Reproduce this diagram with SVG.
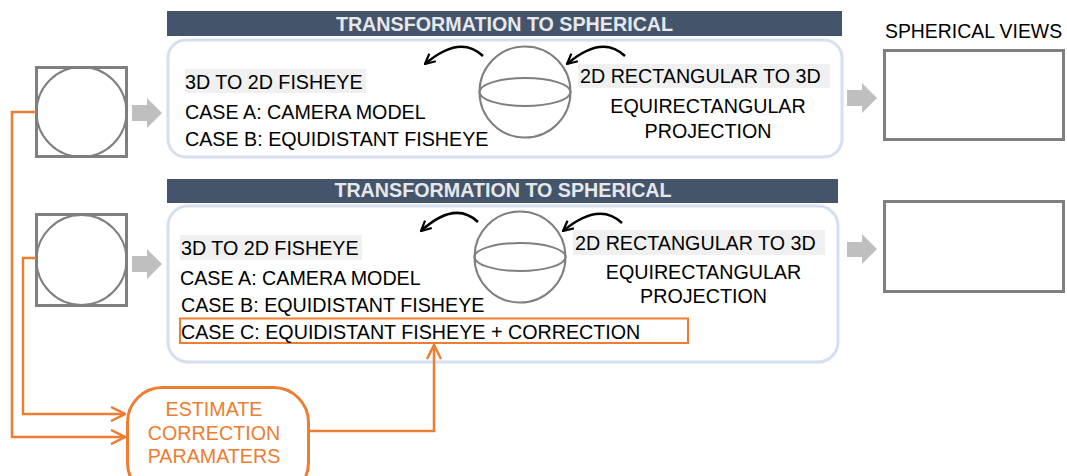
<svg xmlns="http://www.w3.org/2000/svg" width="1067" height="476" viewBox="0 0 1067 476">
<style>
text{font-family:"Liberation Sans",Arial,sans-serif;font-size:19.7px;fill:#000}
.hdr{fill:#44546a}
.hdrt{font-weight:bold;fill:#e6e8ec;text-anchor:middle}
.panel{fill:#fff;stroke:#d6dff0;stroke-width:3}
.gray{fill:#fff;stroke:#7f7f7f;stroke-width:3}
.thin{fill:none;stroke:#7f7f7f;stroke-width:2}
.bg{fill:#f0f0f0}
.mid{text-anchor:middle}
.blk{fill:#bfbfbf}
.curve{fill:none;stroke:#000;stroke-width:2.5}
.or{fill:none;stroke:#ed7d31;stroke-width:2.5}
.ort{fill:#ed7d31;text-anchor:middle}
</style>
<defs>
<marker id="ah" viewBox="0 0 12 12" refX="11" refY="6" markerWidth="12" markerHeight="12" markerUnits="userSpaceOnUse" orient="auto">
<path d="M1,1 L11,6 L1,11" fill="none" stroke="#000" stroke-width="2.2"/>
</marker>
<marker id="oh" viewBox="0 0 16 16" refX="15" refY="8" markerWidth="16" markerHeight="16" markerUnits="userSpaceOnUse" orient="auto">
<path d="M1,1 L15,8 L1,15" fill="none" stroke="#ed7d31" stroke-width="2.5"/>
</marker>
</defs>

<g id="row1">
<rect class="hdr" x="167" y="11" width="675" height="25"/>
<text class="hdrt" x="504.5" y="31">TRANSFORMATION TO SPHERICAL</text>
<rect class="panel" x="168" y="40" width="674" height="117" rx="18"/>
<rect class="bg" x="185" y="69" width="181" height="24"/>
<text x="185" y="89">3D TO 2D FISHEYE</text>
<text x="185" y="119">CASE A: CAMERA MODEL</text>
<text x="185" y="146">CASE B: EQUIDISTANT FISHEYE</text>
<circle class="thin" cx="525" cy="92" r="45.5"/>
<ellipse class="thin" cx="525" cy="92" rx="45.5" ry="14"/>
<rect class="bg" x="578" y="64" width="252" height="24"/>
<text x="580" y="83">2D RECTANGULAR TO 3D</text>
<text class="mid" x="708" y="113">EQUIRECTANGULAR</text>
<text class="mid" x="708" y="138">PROJECTION</text>
</g>

<g id="row2">
<rect class="hdr" x="167" y="179" width="671" height="24"/>
<text class="hdrt" x="503" y="197">TRANSFORMATION TO SPHERICAL</text>
<rect class="panel" x="168" y="206" width="670" height="156" rx="20"/>
<rect class="bg" x="180" y="235" width="182" height="25"/>
<text x="181" y="255">3D TO 2D FISHEYE</text>
<text x="180" y="285">CASE A: CAMERA MODEL</text>
<text x="181" y="312">CASE B: EQUIDISTANT FISHEYE</text>
<rect x="180" y="318.5" width="508" height="24.5" fill="none" stroke="#ed7d31" stroke-width="2"/>
<text x="181" y="339">CASE C: EQUIDISTANT FISHEYE + CORRECTION</text>
<circle class="thin" cx="520" cy="257" r="45.5"/>
<ellipse class="thin" cx="520" cy="257" rx="45.5" ry="14"/>
<rect class="bg" x="573" y="230" width="252" height="25"/>
<text x="575" y="250">2D RECTANGULAR TO 3D</text>
<text class="mid" x="703.5" y="279">EQUIRECTANGULAR</text>
<text class="mid" x="703.5" y="303">PROJECTION</text>
</g>

<g id="fisheye1">
<rect class="gray" x="36.5" y="67.5" width="90" height="89"/>
<circle class="thin" cx="81.5" cy="112" r="45"/>
</g>
<g id="fisheye2">
<rect class="gray" x="36.5" y="214.5" width="90" height="91"/>
<circle class="thin" cx="81.5" cy="260" r="45"/>
</g>

<g id="views">
<text x="885" y="38" style="font-size:19.4px">SPHERICAL VIEWS</text>
<rect class="gray" x="884.5" y="50.5" width="179" height="89"/>
<rect class="gray" x="884.5" y="201.5" width="179" height="90"/>
</g>

<g id="estimate">
<rect x="127.5" y="387.5" width="181" height="110" rx="35" fill="#fff" stroke="#ed7d31" stroke-width="3"/>
<text class="ort" x="214" y="416">ESTIMATE</text>
<text class="ort" x="214" y="440">CORRECTION</text>
<text class="ort" x="214" y="463">PARAMATERS</text>
</g>

<g id="connectors">
<path class="blk" d="M132,105 H147 V98 L162,113 L147,128 V121 H132 Z"/>
<path class="blk" d="M132,256 H147 V249 L162,264 L147,279 V272 H132 Z"/>
<path class="blk" d="M847,90 H862 V83 L877,98 L862,113 V106 H847 Z"/>
<path class="blk" d="M847,242 H862 V234 L877,249 L862,264 V257 H847 Z"/>
<path class="curve" d="M483,56 Q460,34 425,64" marker-end="url(#ah)"/>
<path class="curve" d="M625,56 Q602,34 567,64" marker-end="url(#ah)"/>
<path class="curve" d="M478,222 Q455,200 421,231" marker-end="url(#ah)"/>
<path class="curve" d="M622,223 Q599,201 563,231" marker-end="url(#ah)"/>
<path class="or" d="M36,112 H12 V437 H125" marker-end="url(#oh)"/>
<path class="or" d="M36,258 H23 V414 H125" marker-end="url(#oh)"/>
<path class="or" d="M309,431 H434 V345" marker-end="url(#oh)"/>
</g>
</svg>
